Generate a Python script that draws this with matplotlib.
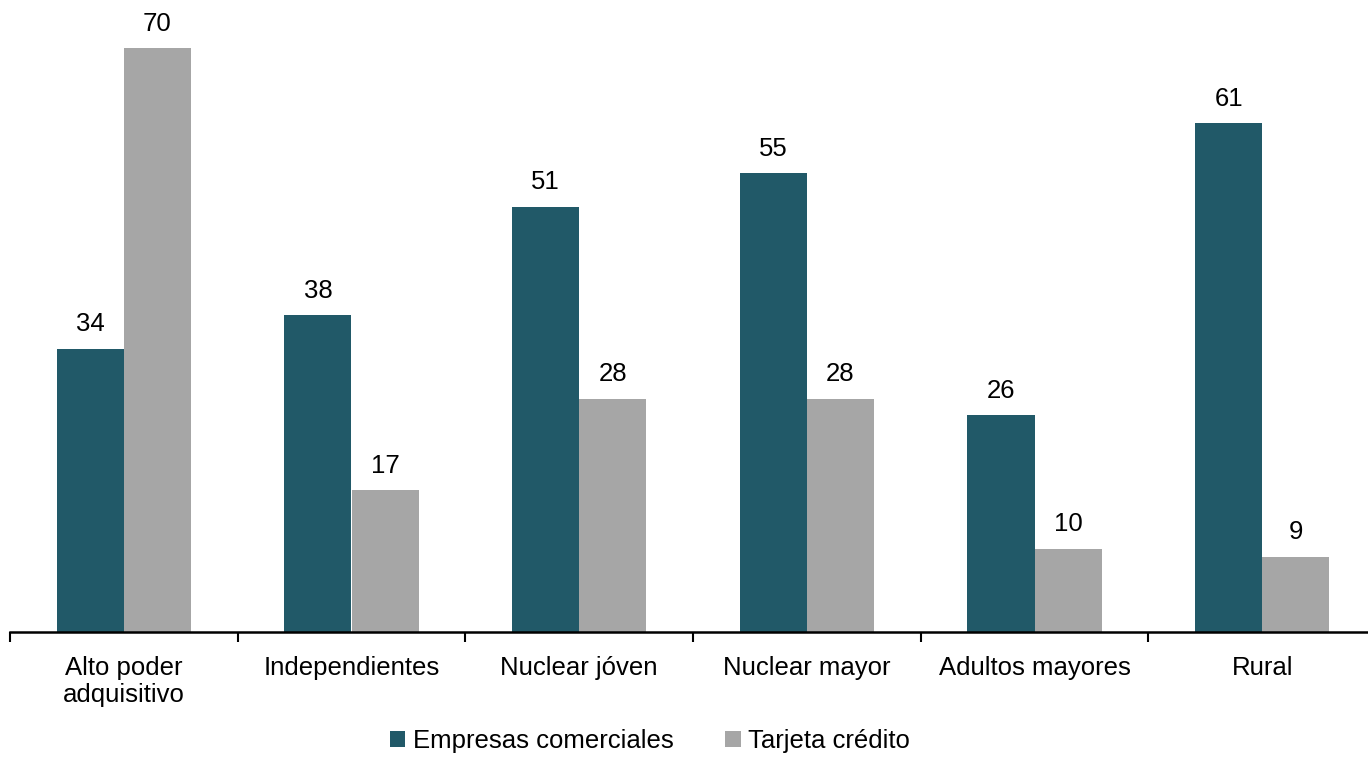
import numpy as np
import matplotlib.pyplot as plt

plt.rcParams['font.family'] = ['Liberation Sans', 'DejaVu Sans']

# data
categorias = ["Alto poder\nadquisitivo", "Independientes", "Nuclear jóven",
              "Nuclear mayor", "Adultos mayores", "Rural"]
empresas = [34, 38, 51, 55, 26, 61]
tarjeta = [70, 17, 28, 28, 10, 9]
series_nombres = ["Empresas comerciales", "Tarjeta crédito"]
colores = ["#215968", "#A6A6A6"]

fig = plt.figure(figsize=(13.68, 7.57), dpi=100)
ax = fig.add_axes([10 / 1368, 125 / 757, 1366 / 1368, 632 / 757])

x = np.arange(len(categorias))
w = 0.295
b1 = ax.bar(x - w / 2, empresas, w, color=colores[0], label=series_nombres[0])
b2 = ax.bar(x + w / 2, tarjeta, w, color=colores[1], label=series_nombres[1])

for barras in (b1, b2):
    ax.bar_label(barras, labels=[f"{v:.0f}" for v in barras.datavalues],
                 padding=9, fontsize=18.5)

ax.set_xlim(-0.5, len(categorias) - 0.5)
ax.set_ylim(0, 75.8)

# ticks at the category boundaries, labels centred
ax.set_xticks(np.arange(len(categorias)) - 0.5, minor=False)
ax.set_xticklabels([])
ax.set_xticks(x, minor=True)
ax.set_xticklabels(categorias, minor=True, fontsize=18.5)
ax.tick_params(axis="x", which="major", length=7, width=1.5, direction="out")
ax.tick_params(axis="x", which="minor", length=0, pad=17)
ax.set_yticks([])

for s in ["top", "right", "left"]:
    ax.spines[s].set_visible(False)
ax.spines["bottom"].set_linewidth(1.8)
ax.spines["bottom"].set_clip_on(False)

fig.legend(loc="center", bbox_to_anchor=(650 / 1368, 1 - 741 / 757), ncol=2,
           frameon=False, fontsize=18.5, handlelength=0.6, handleheight=0.6,
           handletextpad=0.3, columnspacing=2.0)

fig.savefig("out.png", dpi=100)
